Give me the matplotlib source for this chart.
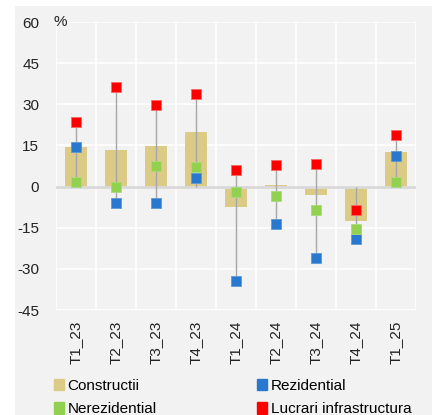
import matplotlib.pyplot as plt
import matplotlib.patches as mpatches
import numpy as np

plt.rcParams['font.family'] = ['Liberation Sans', 'DejaVu Sans']
plt.rcParams['axes.unicode_minus'] = False

# quarters
categories = ['T1_23', 'T2_23', 'T3_23', 'T4_23', 'T1_24', 'T2_24', 'T3_24', 'T4_24', 'T1_25']

# annual change, %
constructii = [14.6, 13.5, 14.9, 19.9, -7.6, 0.5, -2.9, -12.7, 12.6]
rezidential = [14.6, -5.9, -6.1, 3.3, -34.4, -13.7, -26.2, -19.0, 11.0]
nerezidential = [1.6, 0.0, 7.4, 7.0, -2.0, -3.5, -8.5, -15.6, 1.6]
infrastructura = [23.7, 36.3, 29.6, 33.7, 6.1, 7.7, 8.4, -8.7, 18.8]

labels = ['Constructii', 'Rezidential', 'Nerezidential', 'Lucrari infrastructura']
colors = ['#dccb86', '#2878cf', '#92d050', '#ff0000']

panel = '#f2f2f2'

fig = plt.figure(figsize=(4.36, 4.15), dpi=100)
fig.patch.set_facecolor('white')
# grey background panel
fig.patches.append(mpatches.Rectangle((15 / 436, 0), 417 / 436, 409 / 415,
                                      transform=fig.transFigure, facecolor=panel,
                                      edgecolor='none', zorder=-10))

ax = fig.add_axes([56 / 436, 1 - 310 / 415, 360 / 436, 288 / 415])
ax.set_facecolor(panel)

x = np.arange(len(categories))

# grid
for yv in range(-45, 61, 15):
    ax.axhline(yv, color='white', lw=1.2, zorder=1)
for xv in np.arange(-0.5, len(categories), 1):
    ax.axvline(xv, color='white', lw=1.2, zorder=1)

ax.bar(x, constructii, width=0.55, color=colors[0], zorder=2)
ax.axhline(0, color='#d9d9d9', lw=2, zorder=2.5)

# high-low lines
allv = np.array([rezidential, nerezidential, infrastructura, [0] * len(categories)])
ax.vlines(x, allv.min(axis=0), allv.max(axis=0), color='#a6a6a6', lw=1, zorder=3)

ax.plot(x, rezidential, 's', ms=7.8, color=colors[1], mec='#5b9bd5', mew=0.6, zorder=4)
ax.plot(x, nerezidential, 's', ms=7.8, color=colors[2], mec='#a9dc7a', mew=0.6, zorder=4)
ax.plot(x, infrastructura, 's', ms=7.8, color=colors[3], mec='#ff6666', mew=0.6, zorder=5)

ax.set_xlim(-0.5, len(categories) - 0.5)
ax.set_ylim(-45, 60)
ax.set_yticks(range(-45, 61, 15))
ax.set_xticks(x)
ax.set_xticklabels(categories, rotation=90)
ax.tick_params(axis='both', length=0, labelsize=11, colors='#222222')
ax.tick_params(axis='x', pad=8)
ax.tick_params(axis='y', pad=12)
for s in ax.spines.values():
    s.set_visible(False)

fig.text(53 / 436, 1 - 22 / 415, '%', fontsize=11, va='center', ha='left', color='#222222')

handles = [mpatches.Patch(color=c, label=l) for c, l in zip(colors, labels)]
order = [0, 2, 1, 3]
fig.legend([handles[i] for i in order], [labels[i] for i in order],
           loc='lower left', bbox_to_anchor=(40 / 436, -0.036), ncol=2,
           frameon=False, fontsize=11, handlelength=0.65, handleheight=0.8,
           handletextpad=0.25, columnspacing=6.6, labelspacing=0.6)

plt.savefig('out.png', dpi=100, facecolor=fig.get_facecolor())
